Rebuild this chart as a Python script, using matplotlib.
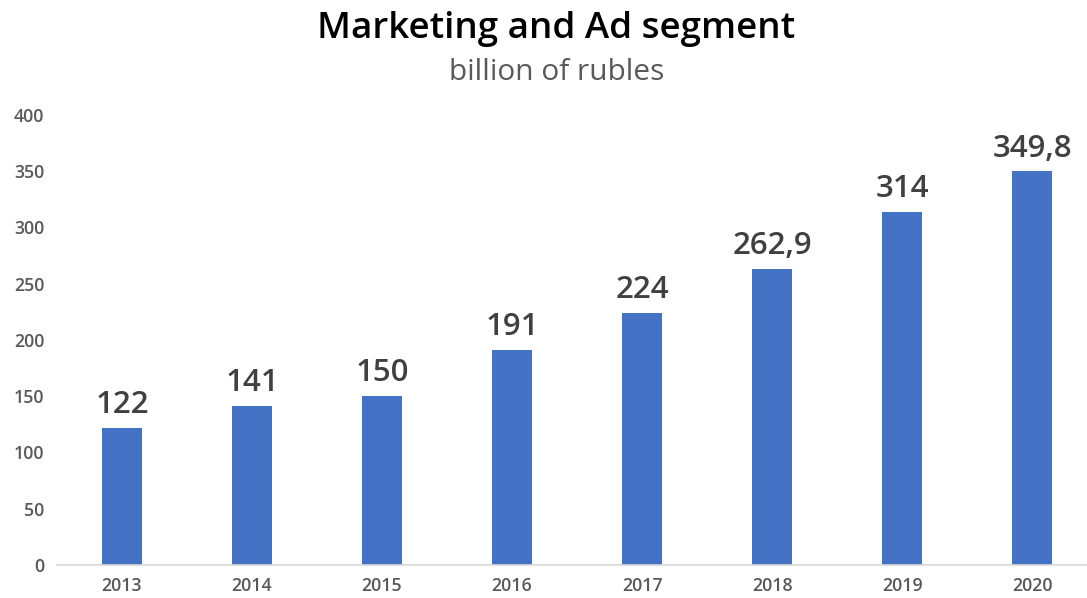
import numpy as np
import matplotlib.pyplot as plt

years = ['2013', '2014', '2015', '2016', '2017', '2018', '2019', '2020']
values = [122, 141, 150, 191, 224, 262.9, 314, 349.8]
labels = ['122', '141', '150', '191', '224', '262,9', '314', '349,8']

plt.rcParams['font.family'] = ['Open Sans', 'DejaVu Sans']

fig = plt.figure(figsize=(10.87, 5.98), dpi=100)
ax = fig.add_axes([0.0524, 0.0552, 0.957, 0.7525])

x = np.arange(len(years))
ax.bar(x, values, width=0.31, color='#4472C4', zorder=2)
for xi, v, lab in zip(x, values, labels):
    ax.text(xi, v + 7, lab, ha='center', va='bottom', fontsize=22.5,
            color='#404040', fontweight='semibold')

ax.set_xlim(-0.5, 7.5)
ax.set_ylim(0, 400)
ax.set_xticks(x, years)
ax.set_yticks(np.arange(0, 401, 50))
ax.tick_params(length=0, labelsize=12.8, labelcolor='#595959', pad=9)
for t in ax.get_xticklabels() + ax.get_yticklabels():
    t.set_fontweight('semibold')
for s in ['top', 'right', 'left']:
    ax.spines[s].set_visible(False)
ax.spines['bottom'].set_color('#D9D9D9')
ax.spines['bottom'].set_linewidth(1.2)

fig.text(0.512, 0.952, 'Marketing and Ad segment', ha='center', va='center',
         fontsize=26.5, color='black', fontweight='semibold')
fig.text(0.512, 0.878, 'billion of rubles', ha='center', va='center',
         fontsize=21.5, color='#595959')

fig.savefig('out.png', dpi=100)
